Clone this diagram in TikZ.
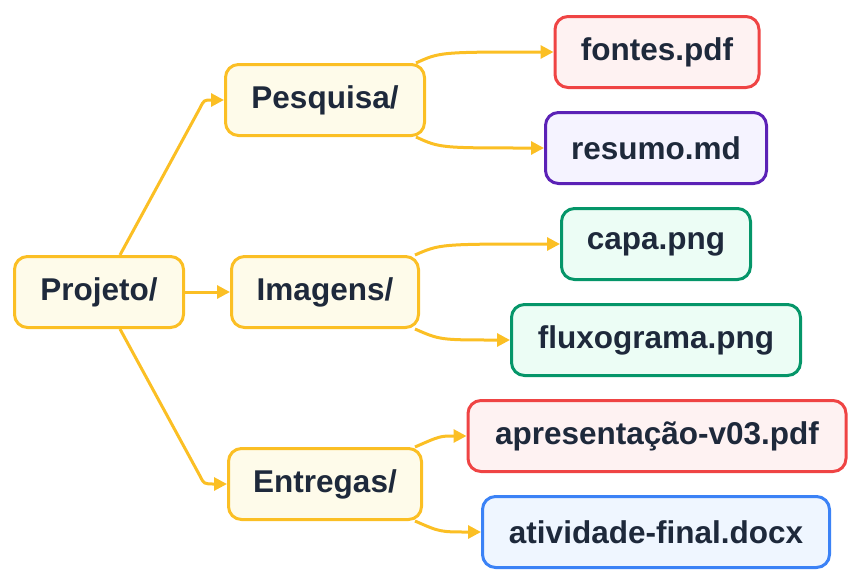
\documentclass[tikz,border=0pt]{standalone}
\usepackage{fontspec}
\setmainfont{Liberation Sans}
\usetikzlibrary{arrows.meta}
\definecolor{amb}{HTML}{FBBF24}
\definecolor{ambf}{HTML}{FEFBEA}
\definecolor{txt}{HTML}{1E293B}
\definecolor{red}{HTML}{EF4444}
\definecolor{redf}{HTML}{FEF2F2}
\definecolor{pur}{HTML}{5B21B6}
\definecolor{purf}{HTML}{F5F3FF}
\definecolor{grn}{HTML}{059669}
\definecolor{grnf}{HTML}{ECFDF5}
\definecolor{blu}{HTML}{3B82F6}
\definecolor{bluf}{HTML}{EFF6FF}
\tikzset{
  box/.style={draw=#1, fill=#1f, line width=3pt, rounded corners=13pt,
    minimum height=71pt, text=txt, font=\fontsize{31.5}{36}\selectfont\bfseries},
  link/.style={draw=amb, line width=3pt, -{Triangle[length=13pt,width=13pt]}}
}
\begin{document}
\begin{tikzpicture}[x=1pt,y=-1pt]
	\useasboundingbox (0,0) rectangle (861,584);
	
	\node[box=amb, minimum width=169pt] (proj) at (99,292)  {Projeto/};
	\node[box=amb, minimum width=199pt] (pes)  at (325,100) {Pesquisa/};
	\node[box=amb, minimum width=187pt] (img)  at (325,292) {Imagens/};
	\node[box=amb, minimum width=193pt] (ent)  at (325,484) {Entregas/};
	\node[box=red, minimum width=204pt] (fon)  at (657,52)  {fontes.pdf};
	\node[box=pur, minimum width=221pt] (res)  at (656,148) {resumo.md};
	\node[box=grn, minimum width=189pt] (capa) at (656,244) {capa.png};
	\node[box=grn, minimum width=289pt] (flux) at (656,340) {fluxograma.png};
	\node[box=red, minimum width=378pt] (apr)  at (657,436) {apresentação-v03.pdf};
	\node[box=blu, minimum width=347pt] (ativ) at (656,532) {atividade-final.docx};
	
	\draw[link] ([xshift=21pt]proj.north) -- (200,108) .. controls (204,100) .. (pes.west);
	\draw[link] (proj.east) -- (img.west);
	\draw[link] ([xshift=21pt]proj.south) -- (200,476) .. controls (204,484) .. (ent.west);
	\draw[link] ([xshift=-10pt]pes.north east) .. controls (440,52) .. (fon.west);
	\draw[link] ([xshift=-10pt]pes.south east) .. controls (440,148) .. (res.west);
	\draw[link] ([xshift=-5pt]img.north east) .. controls (440,244) .. (capa.west);
	\draw[link] ([xshift=-5pt]img.south east) .. controls (440,340) .. (flux.west);
	\draw[link] ([xshift=-8pt]ent.north east) .. controls (440,436) .. (apr.west);
	\draw[link] ([xshift=-8pt]ent.south east) .. controls (440,532) .. (ativ.west);
	
\end{tikzpicture}
\end{document}
